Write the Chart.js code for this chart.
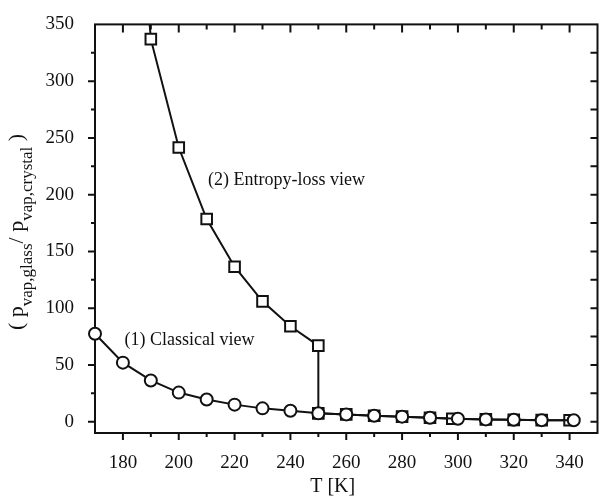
<!DOCTYPE html>
<html>
<head>
<meta charset="utf-8">
<script src="https://cdn.jsdelivr.net/npm/chart.js@4.4.0/dist/chart.umd.min.js"></script>
<style>
    html, body { margin: 0; padding: 0; background: #fff; }
    #wrap { width: 607px; height: 496px; }
</style>
</head>
<body>
<div id="wrap"><canvas id="vapChart" width="607" height="496"></canvas></div>
<script>
// (1) Classical view - circles
const classicalT = [170, 180, 190, 200, 210, 220, 230, 240, 250, 260, 270, 280, 290, 300, 310, 320, 330, 341.5];
const classicalRatio = [77.5, 52, 36.3, 25.6, 19.5, 15, 11.7, 9.6, 7.3, 6.4, 5.2, 4.4, 3.4, 2.5, 2, 1.6, 1.3, 1.2];

// (2) Entropy-loss view - squares (first point runs off the top of the plot)
const entropyT = [180, 190, 200, 210, 220, 230, 240, 250, 250, 260, 270, 280, 290, 298, 310, 320, 330, 340];
const entropyRatio = [650, 337, 241.5, 178.5, 136.5, 106, 84, 67, 7.3, 6.4, 5.2, 4.4, 3.4, 2.6, 2, 1.6, 1.3, 1.2];

// tick labels
const xTickValues = [180, 200, 220, 240, 260, 280, 300, 320, 340];
const yTickValues = [0, 50, 100, 150, 200, 250, 300, 350];

const SERIF = "'Liberation Serif', 'Times New Roman', serif";
const INK = '#111';

const toPoints = (xs, ys) => xs.map((x, i) => ({ x: x, y: ys[i] }));

// box frame, inward/outward tick marks, annotations and axis titles
const frameAndText = {
    id: 'frameAndText',
    beforeDatasetsDraw(chart) {
        const { ctx, chartArea: a, scales: { x, y } } = chart;
        ctx.save();
        ctx.strokeStyle = INK;
        ctx.lineWidth = 2;
        ctx.strokeRect(a.left, a.top, a.right - a.left, a.bottom - a.top);

        ctx.beginPath();
        for (let t = 180; t <= 340; t += 10) {
            const px = x.getPixelForValue(t);
            const major = t % 20 === 0;
            ctx.moveTo(px, a.bottom);
            ctx.lineTo(px, a.bottom + (major ? 7 : 4));
            ctx.moveTo(px, a.top);
            ctx.lineTo(px, a.top + (major ? 8 : 5));
        }
        for (let v = 0; v <= 325; v += 25) {
            const py = y.getPixelForValue(v);
            const major = v % 50 === 0;
            ctx.moveTo(a.left, py);
            ctx.lineTo(a.left - (major ? 7 : 4), py);
            ctx.moveTo(a.right, py);
            ctx.lineTo(a.right - 7, py);
        }
        ctx.stroke();
        ctx.restore();
    },
    afterDraw(chart) {
        const { ctx, chartArea: a, scales: { x, y } } = chart;
        ctx.save();
        ctx.fillStyle = INK;
        ctx.textBaseline = 'alphabetic';
        ctx.textAlign = 'left';

        ctx.font = '18px ' + SERIF;
        ctx.fillText('(2) Entropy-loss view', x.getPixelForValue(210.5), y.getPixelForValue(208.8));
        ctx.fillText('(1) Classical view', x.getPixelForValue(180.6), y.getPixelForValue(67.5));

        // x title
        ctx.font = '20px ' + SERIF;
        ctx.textAlign = 'center';
        ctx.fillText('T [K]', a.left + (a.right - a.left) * 0.473, 492);

        // y title with subscripts, rotated
        const parts = [
            ['( ', 22, 0], ['p', 22, 0], ['vap,glass', 17, 9],
            ['/ ', 22, 0], ['p', 22, 0], ['vap,crystal', 17, 9], [' )', 22, 0]
        ];
        let total = 0;
        parts.forEach(p => { ctx.font = p[1] + 'px ' + SERIF; total += ctx.measureText(p[0]).width; });
        ctx.translate(23, 232);
        ctx.rotate(-Math.PI / 2);
        ctx.textAlign = 'left';
        let cx = -total / 2;
        parts.forEach(p => {
            ctx.font = p[1] + 'px ' + SERIF;
            ctx.fillText(p[0], cx, p[2]);
            cx += ctx.measureText(p[0]).width;
        });
        ctx.restore();
    }
};

const ctx = document.getElementById('vapChart').getContext('2d');

new Chart(ctx, {
    type: 'line',
    data: {
        datasets: [{
            label: '(1) Classical view',
            data: toPoints(classicalT, classicalRatio),
            borderColor: INK,
            borderWidth: 2,
            pointStyle: 'circle',
            pointRadius: 6,
            pointBorderWidth: 2,
            pointBackgroundColor: '#fff',
            pointBorderColor: INK,
            tension: 0,
            clip: false
        }, {
            label: '(2) Entropy-loss view',
            data: toPoints(entropyT, entropyRatio),
            borderColor: INK,
            borderWidth: 2,
            pointStyle: 'rect',
            pointRadius: 7.5,
            pointBorderWidth: 2,
            pointBackgroundColor: '#fff',
            pointBorderColor: INK,
            tension: 0,
            clip: { left: false, top: 0, right: false, bottom: false }
        }]
    },
    options: {
        responsive: false,
        animation: false,
        events: [],
        layout: { padding: { top: 20, right: 1, left: 0, bottom: 0 } },
        plugins: {
            legend: { display: false },
            tooltip: { enabled: false }
        },
        scales: {
            x: {
                type: 'linear',
                min: 170,
                max: 350,
                grid: { display: false },
                border: { display: false },
                afterBuildTicks: s => { s.ticks = xTickValues.map(v => ({ value: v })); },
                afterFit: s => { s.height = 63; },
                ticks: {
                    color: INK,
                    padding: 11,
                    maxRotation: 0,
                    autoSkip: false,
                    font: { family: SERIF, size: 19 }
                }
            },
            y: {
                type: 'linear',
                min: -10,
                max: 350,
                grid: { display: false },
                border: { display: false },
                afterBuildTicks: s => { s.ticks = yTickValues.map(v => ({ value: v })); },
                afterFit: s => { s.width = 95; },
                ticks: {
                    color: INK,
                    padding: 13,
                    autoSkip: false,
                    font: { family: SERIF, size: 19 }
                }
            }
        }
    },
    plugins: [frameAndText]
});
</script>
</body>
</html>
